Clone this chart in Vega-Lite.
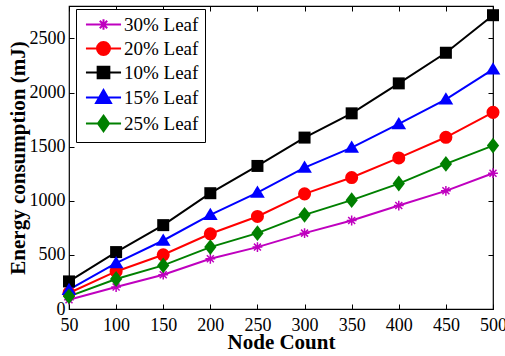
{
  "$schema": "https://vega.github.io/schema/vega-lite/v6.json",
  "width": 424,
  "height": 303,
  "autosize": {"type": "none"},
  "padding": {"left": 69, "top": 6, "right": 12, "bottom": 47},
  "background": "white",
  "config": {
    "view": {"stroke": "black", "strokeWidth": 1.2},
    "axis": {
      "grid": false,
      "domain": false,
      "tickColor": "black",
      "tickSize": -5,
      "tickWidth": 1,
      "labelColor": "black",
      "labelFont": "Liberation Serif",
      "labelFontSize": 18,
      "titleFont": "Liberation Serif",
      "titleFontSize": 21,
      "titleFontWeight": "bold",
      "titleColor": "black"
    },
    "legend": {"labelFont": "Liberation Serif"}
  },
  "data": {
    "values": [
      {"n": 50, "series": "10% Leaf", "e": 255},
      {"n": 100, "series": "10% Leaf", "e": 526},
      {"n": 150, "series": "10% Leaf", "e": 775},
      {"n": 200, "series": "10% Leaf", "e": 1070},
      {"n": 250, "series": "10% Leaf", "e": 1322},
      {"n": 300, "series": "10% Leaf", "e": 1584},
      {"n": 350, "series": "10% Leaf", "e": 1808},
      {"n": 400, "series": "10% Leaf", "e": 2085},
      {"n": 450, "series": "10% Leaf", "e": 2368},
      {"n": 500, "series": "10% Leaf", "e": 2715},
      {"n": 50, "series": "15% Leaf", "e": 178},
      {"n": 100, "series": "15% Leaf", "e": 424},
      {"n": 150, "series": "15% Leaf", "e": 633},
      {"n": 200, "series": "15% Leaf", "e": 870},
      {"n": 250, "series": "15% Leaf", "e": 1076},
      {"n": 300, "series": "15% Leaf", "e": 1307},
      {"n": 350, "series": "15% Leaf", "e": 1491},
      {"n": 400, "series": "15% Leaf", "e": 1710},
      {"n": 450, "series": "15% Leaf", "e": 1937},
      {"n": 500, "series": "15% Leaf", "e": 2214},
      {"n": 50, "series": "20% Leaf", "e": 148},
      {"n": 100, "series": "20% Leaf", "e": 347},
      {"n": 150, "series": "20% Leaf", "e": 501},
      {"n": 200, "series": "20% Leaf", "e": 695},
      {"n": 250, "series": "20% Leaf", "e": 855},
      {"n": 300, "series": "20% Leaf", "e": 1064},
      {"n": 350, "series": "20% Leaf", "e": 1215},
      {"n": 400, "series": "20% Leaf", "e": 1396},
      {"n": 450, "series": "20% Leaf", "e": 1587},
      {"n": 500, "series": "20% Leaf", "e": 1817},
      {"n": 50, "series": "25% Leaf", "e": 117},
      {"n": 100, "series": "25% Leaf", "e": 277},
      {"n": 150, "series": "25% Leaf", "e": 403},
      {"n": 200, "series": "25% Leaf", "e": 572},
      {"n": 250, "series": "25% Leaf", "e": 701},
      {"n": 300, "series": "25% Leaf", "e": 870},
      {"n": 350, "series": "25% Leaf", "e": 1006},
      {"n": 400, "series": "25% Leaf", "e": 1159},
      {"n": 450, "series": "25% Leaf", "e": 1341},
      {"n": 500, "series": "25% Leaf", "e": 1510},
      {"n": 50, "series": "30% Leaf", "e": 86},
      {"n": 100, "series": "30% Leaf", "e": 203},
      {"n": 150, "series": "30% Leaf", "e": 317},
      {"n": 200, "series": "30% Leaf", "e": 464},
      {"n": 250, "series": "30% Leaf", "e": 572},
      {"n": 300, "series": "30% Leaf", "e": 701},
      {"n": 350, "series": "30% Leaf", "e": 818},
      {"n": 400, "series": "30% Leaf", "e": 956},
      {"n": 450, "series": "30% Leaf", "e": 1092},
      {"n": 500, "series": "30% Leaf", "e": 1255}
    ]
  },
  "resolve": {"axis": {"x": "independent", "y": "independent"}},
  "layer": [
    {
      "mark": {"type": "line", "strokeWidth": 2},
      "encoding": {
        "x": {
          "field": "n", "type": "quantitative",
          "scale": {"domain": [50, 500], "nice": false, "zero": false},
          "axis": {"values": [50,100,150,200,250,300,350,400,450,500], "format": "d", "title": "Node Count", "labelFont": "Liberation Serif", "labelPadding": 12, "titlePadding": -3, "labelFlush": false}
        },
        "y": {
          "field": "e", "type": "quantitative",
          "scale": {"domain": [0, 2800], "nice": false},
          "axis": {"values": [0,500,1000,1500,2000,2500], "format": "d", "title": "Energy consumption (mJ)", "labelFont": "Liberation Serif", "labelPadding": 9, "titlePadding": 1, "labelFlush": false}
        },
        "color": {
          "field": "series", "type": "nominal",
          "scale": {"domain": ["30% Leaf", "20% Leaf", "10% Leaf", "15% Leaf", "25% Leaf"], "range": ["#BF00BF", "#FF0000", "#000000", "#0000FF", "#008000"]},
          "legend": {
            "orient": "none", "legendX": 7, "legendY": 3, "title": null,
            "strokeColor": "black", "fillColor": "white", "padding": 6,
            "labelFont": "Liberation Serif", "labelFontSize": 19, "labelColor": "black",
            "symbolSize": 169, "symbolOpacity": 1, "rowPadding": 3, "symbolOffset": 12, "labelOffset": 11,
            "encode": {
              "symbols": {
                "update": {
                  "fill": {"scale": "color", "field": "value"},
                  "stroke": {"scale": "color", "field": "value"},
                  "strokeWidth": {"value": 2},
                  "opacity": {"value": 1}
                }
              }
            }
          }
        }
      }
    },
    {
      "transform": [{"filter": "datum.series === '30% Leaf'"}],
      "mark": {"type": "point", "shape": "M-0.8,0H0.8M0,-0.8V0.8M-0.57,-0.57L0.57,0.57M-0.57,0.57L0.57,-0.57", "size": 150, "stroke": "#BF00BF", "strokeWidth": 1.5, "opacity": 1},
      "encoding": {"x": {"field": "n", "type": "quantitative", "axis": null}, "y": {"field": "e", "type": "quantitative", "axis": null}}
    },
    {
      "transform": [{"filter": "datum.series === '20% Leaf'"}],
      "mark": {"type": "point", "shape": "circle", "size": 170, "filled": true, "fill": "#FF0000", "opacity": 1},
      "encoding": {"x": {"field": "n", "type": "quantitative", "axis": null}, "y": {"field": "e", "type": "quantitative", "axis": null}}
    },
    {
      "transform": [{"filter": "datum.series === '10% Leaf'"}],
      "mark": {"type": "point", "shape": "square", "size": 144, "filled": true, "fill": "#000000", "opacity": 1},
      "encoding": {"x": {"field": "n", "type": "quantitative", "axis": null}, "y": {"field": "e", "type": "quantitative", "axis": null}}
    },
    {
      "transform": [{"filter": "datum.series === '15% Leaf'"}],
      "mark": {"type": "point", "shape": "M0,-1.15L1.2,0.85H-1.2Z", "size": 150, "filled": true, "fill": "#0000FF", "opacity": 1},
      "encoding": {"x": {"field": "n", "type": "quantitative", "axis": null}, "y": {"field": "e", "type": "quantitative", "axis": null}}
    },
    {
      "transform": [{"filter": "datum.series === '25% Leaf'"}],
      "mark": {"type": "point", "shape": "M0,-1.3L1,0L0,1.3L-1,0Z", "size": 150, "filled": true, "fill": "#008000", "opacity": 1},
      "encoding": {"x": {"field": "n", "type": "quantitative", "axis": null}, "y": {"field": "e", "type": "quantitative", "axis": null}}
    },
    {
      "mark": {"type": "point", "filled": true, "opacity": 0},
      "encoding": {
        "x": {"field": "n", "type": "quantitative", "axis": {"orient": "top", "values": [50,100,150,200,250,300,350,400,450,500], "labels": false, "title": null}},
        "y": {"field": "e", "type": "quantitative", "axis": {"orient": "right", "values": [0,500,1000,1500,2000,2500], "labels": false, "title": null}},
        "shape": {
          "field": "series", "type": "nominal",
          "scale": {"domain": ["30% Leaf", "20% Leaf", "10% Leaf", "15% Leaf", "25% Leaf"], "range": ["M-2.7,0H2.7M0,-0.8V0.8M-0.57,-0.57L0.57,0.57M-0.57,0.57L0.57,-0.57", "M-2.7,0H2.7M-1,0A1,1,0,1,1,1,0A1,1,0,1,1,-1,0Z", "M-2.7,0H2.7M-0.9,-0.9H0.9V0.9H-0.9Z", "M-2.7,0H2.7M0,-1.15L1.15,0.85H-1.15Z", "M-2.7,0H2.7M0,-1.2L0.85,0L0,1.2L-0.85,0Z"]},
          "legend": null
        }
      }
    }
  ]
}
